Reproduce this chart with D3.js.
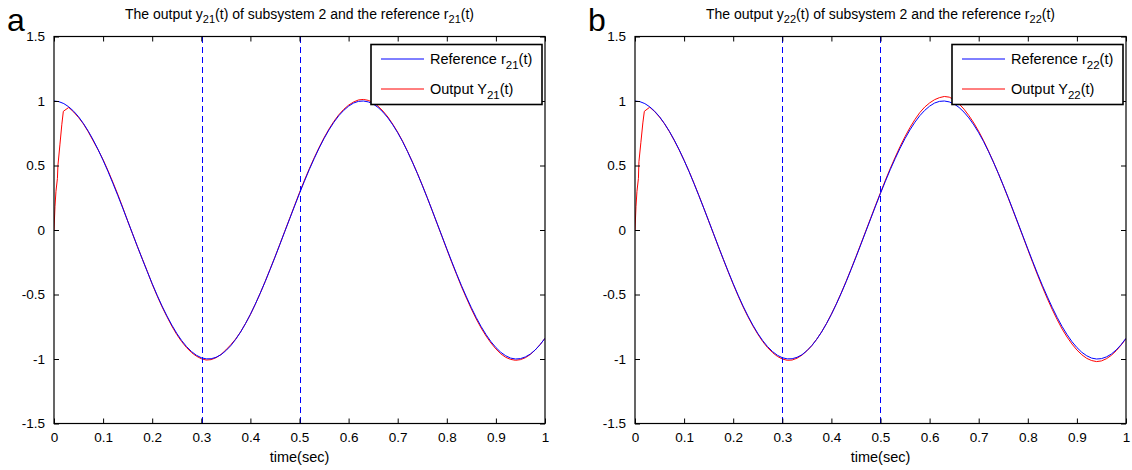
<!DOCTYPE html>
<html><head><meta charset="utf-8">
<script src="https://cdn.jsdelivr.net/npm/d3@7"></script>
<style>
body{margin:0;background:#fff;}
text{font-family:"Liberation Sans",Arial,Helvetica,sans-serif;fill:#000;}
</style></head>
<body><svg id="c" width="1132" height="470"></svg>
<script>
// ---- data ----
const timeRef = d3.range(0, 101).map(i => +(i / 100).toFixed(2));
const refValues = [1.000,0.995,0.980,0.955,0.921,0.878,0.825,0.765,0.697,0.622,
0.540,0.454,0.362,0.267,0.170,0.071,-0.029,-0.129,-0.227,-0.323,
-0.416,-0.505,-0.589,-0.666,-0.737,-0.801,-0.857,-0.904,-0.942,-0.971,
-0.990,-0.999,-0.998,-0.987,-0.967,-0.936,-0.897,-0.848,-0.791,-0.726,
-0.654,-0.575,-0.490,-0.401,-0.307,-0.211,-0.112,-0.012,0.087,0.186,
0.284,0.378,0.469,0.554,0.635,0.709,0.776,0.835,0.886,0.927,
0.960,0.984,0.997,1.000,0.993,0.977,0.950,0.914,0.869,0.815,
0.754,0.685,0.608,0.526,0.439,0.347,0.252,0.154,0.054,-0.046,
-0.146,-0.244,-0.340,-0.432,-0.519,-0.602,-0.679,-0.749,-0.811,-0.866,
-0.911,-0.948,-0.975,-0.993,-1.000,-0.997,-0.984,-0.962,-0.930,-0.889,-0.839];

const timeOut = [0,0.002,0.004,0.007,0.008,0.012,0.016,0.019].concat(d3.range(3, 101).map(i => +(i / 100).toFixed(2)));
const out21 = [0.00,0.18,0.30,0.40,0.50,0.66,0.82,0.92,
0.950,0.915,0.872,0.822,0.760,0.690,0.620,0.545,0.460,0.370,0.275,0.175,0.070,
-0.030,-0.130,-0.225,-0.320,-0.420,-0.510,-0.595,-0.672,-0.745,-0.810,-0.865,-0.912,-0.950,-0.978,
-0.998,-1.008,-1.005,-0.990,-0.965,-0.930,-0.890,-0.845,-0.790,-0.725,
-0.655,-0.575,-0.490,-0.400,-0.305,-0.210,-0.110,-0.010,0.090,0.190,
0.290,0.385,0.475,0.560,0.640,0.715,0.782,0.842,0.893,0.935,
0.968,0.992,1.008,1.012,1.005,0.988,0.960,0.922,0.876,0.820,
0.758,0.688,0.610,0.527,0.440,0.348,0.252,0.153,0.052,-0.048,
-0.150,-0.250,-0.345,-0.440,-0.528,-0.612,-0.690,-0.760,-0.822,-0.876,
-0.922,-0.960,-0.987,-1.003,-1.010,-1.005,-0.990,-0.965,-0.930,-0.888,-0.840];
const out22 = [0.00,0.18,0.30,0.40,0.53,0.68,0.83,0.92,
0.952,0.918,0.875,0.824,0.763,0.694,0.620,0.540,0.455,0.364,0.268,0.170,0.070,
-0.030,-0.131,-0.229,-0.326,-0.420,-0.510,-0.595,-0.672,-0.743,-0.807,-0.864,-0.912,-0.950,-0.980,
-1.000,-1.010,-1.008,-0.994,-0.970,-0.937,-0.896,-0.847,-0.790,-0.725,
-0.652,-0.573,-0.488,-0.398,-0.304,-0.207,-0.108,-0.008,0.092,0.192,
0.290,0.386,0.478,0.565,0.648,0.724,0.794,0.856,0.910,0.953,
0.985,1.010,1.026,1.035,1.030,1.010,0.978,0.937,0.887,0.830,
0.765,0.692,0.612,0.527,0.438,0.345,0.249,0.150,0.050,-0.050,
-0.152,-0.252,-0.350,-0.444,-0.534,-0.618,-0.696,-0.768,-0.830,-0.884,
-0.930,-0.967,-0.995,-1.012,-1.020,-1.015,-0.998,-0.972,-0.936,-0.892,-0.843];

const xTicks = [0,0.1,0.2,0.3,0.4,0.5,0.6,0.7,0.8,0.9,1];
const yTicks = [-1.5,-1,-0.5,0,0.5,1,1.5];
const markerTimes = [0.3, 0.5];

const panels = [
  {letter:"a", sub:"21", out:out21, left:54, right:545},
  {letter:"b", sub:"22", out:out22, left:635, right:1126}
];

const svg = d3.select("#c");
const plotTop = 36.5, plotBottom = 423.5;

panels.forEach(p => {
  const x = d3.scaleLinear().domain([0,1]).range([p.left, p.right]);
  const y = d3.scaleLinear().domain([-1.5,1.5]).range([plotBottom, plotTop]);
  const g = svg.append("g");

  const cid = "clip" + p.sub;
  svg.append("clipPath").attr("id", cid).append("rect")
    .attr("x", p.left).attr("y", plotTop).attr("width", p.right - p.left).attr("height", plotBottom - plotTop);

  const lineRef = d3.line().x((d, i) => x(timeRef[i])).y(d => y(d));
  const lineOut = d3.line().x((d, i) => x(timeOut[i])).y(d => y(d));

  g.append("path").datum(p.out).attr("d", lineOut)
    .style("fill", "none").style("stroke", "#ff0000").style("stroke-width", 1)
    .attr("clip-path", `url(#${cid})`);
  g.append("path").datum(refValues).attr("d", lineRef)
    .style("fill", "none").style("stroke", "#0000ff").style("stroke-width", 1)
    .attr("clip-path", `url(#${cid})`);

  // snap dashed markers to an even pixel column so the thin blue stays blue
  const snap = v => Math.round(v / 2) * 2 + 0.5;
  g.selectAll("line.mk").data(markerTimes).enter().append("line")
    .attr("class", "mk")
    .attr("x1", d => snap(x(d))).attr("x2", d => snap(x(d)))
    .attr("y1", plotTop).attr("y2", plotBottom)
    .style("stroke", "#0000ff").style("stroke-width", 1).style("stroke-dasharray", "6,4")
    .style("shape-rendering", "crispEdges");

  const tl = 5;
  const xb = d3.axisBottom(x).tickValues(xTicks).tickSizeInner(-tl).tickSizeOuter(0).tickPadding(9)
    .tickFormat(d => String(d));
  const yl = d3.axisLeft(y).tickValues(yTicks).tickSizeInner(-tl).tickSizeOuter(0).tickPadding(9)
    .tickFormat(d => String(d));
  const xt = d3.axisTop(x).tickValues(xTicks).tickSizeInner(-tl).tickSizeOuter(0).tickFormat("");
  const yr = d3.axisRight(y).tickValues(yTicks).tickSizeInner(-tl).tickSizeOuter(0).tickFormat("");

  const ax1 = g.append("g").attr("transform", `translate(0,${plotBottom})`).call(xb);
  const ax2 = g.append("g").attr("transform", `translate(${p.left},0)`).call(yl);
  const ax3 = g.append("g").attr("transform", `translate(0,${plotTop})`).call(xt);
  const ax4 = g.append("g").attr("transform", `translate(${p.right},0)`).call(yr);
  [ax1, ax2, ax3, ax4].forEach(a => {
    a.selectAll("path.domain").remove();
    a.selectAll(".tick line").style("stroke", "#000");
    a.selectAll("text").style("font-size", "13.5px").style("font-family", '"Liberation Sans",Arial,sans-serif').style("fill", "#000");
  });
  g.append("rect").attr("x", p.left).attr("y", plotTop).attr("width", p.right - p.left).attr("height", plotBottom - plotTop)
    .style("fill", "none").style("stroke", "#000").style("stroke-width", 1.2);

  const cx = (p.left + p.right) / 2;
  const t = g.append("text").attr("x", cx).attr("y", 19).attr("text-anchor", "middle").style("font-size", "14px");
  t.append("tspan").text("The output y");
  t.append("tspan").attr("dy", 4).style("font-size", "11px").text(p.sub);
  t.append("tspan").attr("dy", -4).text("(t) of subsystem 2 and the reference r");
  t.append("tspan").attr("dy", 4).style("font-size", "11px").text(p.sub);
  t.append("tspan").attr("dy", -4).text("(t)");

  svg.append("text").attr("x", p.left - 47).attr("y", 31).style("font-size", "32px").text(p.letter);

  g.append("text").attr("x", cx).attr("y", 462).attr("text-anchor", "middle").style("font-size", "14.5px").text("time(sec)");

  const lx = p.right - 174, ly = 44.5, lw = 171, lh = 60;
  g.append("rect").attr("x", lx).attr("y", ly).attr("width", lw).attr("height", lh)
    .style("fill", "#fff").style("stroke", "#000").style("stroke-width", 1.6);
  const items = [
    {c:"#0000ff", pre:"Reference r", yy:59},
    {c:"#ff0000", pre:"Output Y", yy:89}
  ];
  items.forEach(it => {
    g.append("line").attr("x1", lx + 10).attr("x2", lx + 53).attr("y1", it.yy).attr("y2", it.yy)
      .style("stroke", it.c).style("stroke-width", 1);
    const tt = g.append("text").attr("x", lx + 59).attr("y", it.yy + 5).style("font-size", "14.5px");
    tt.append("tspan").text(it.pre);
    tt.append("tspan").attr("dy", 5).style("font-size", "11.5px").text(p.sub);
    tt.append("tspan").attr("dy", -5).text("(t)");
  });
});
</script></body></html>
